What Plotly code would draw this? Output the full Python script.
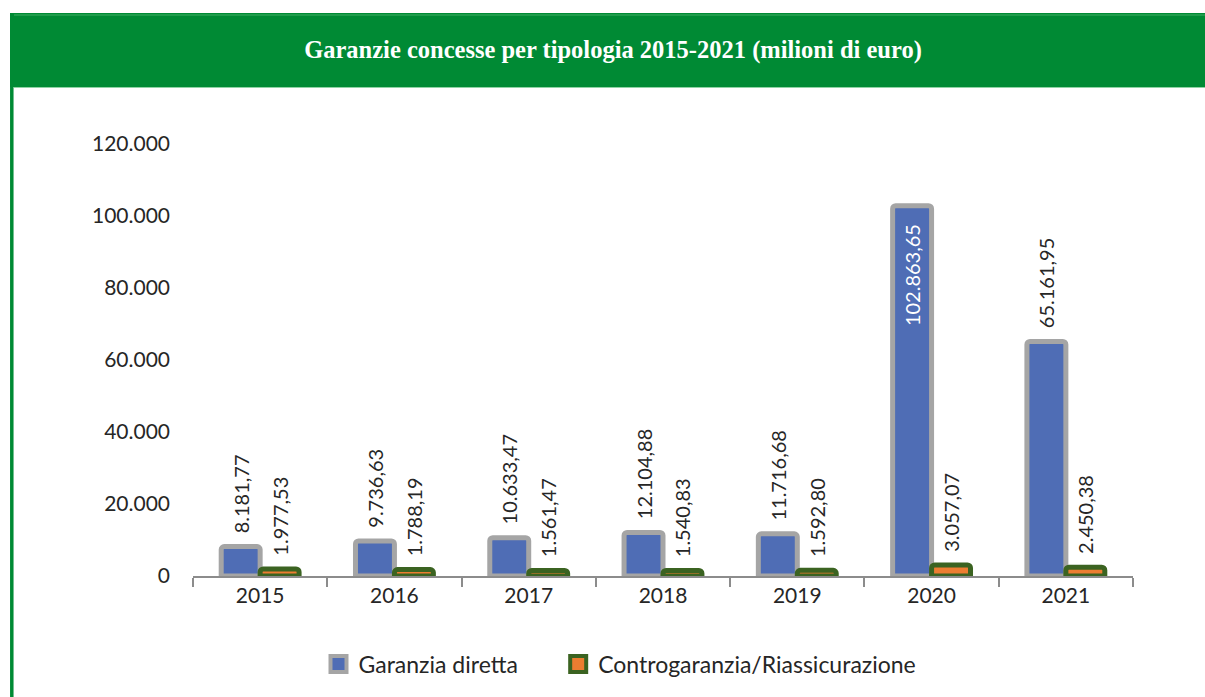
import plotly.graph_objects as go

# Guarantees granted per type, 2015-2021 (million euro)
years = ["2015", "2016", "2017", "2018", "2019", "2020", "2021"]
garanzia_diretta = [8181.77, 9736.63, 10633.47, 12104.88, 11716.68, 102863.65, 65161.95]
controgaranzia = [1977.53, 1788.19, 1561.47, 1540.83, 1592.80, 3057.07, 2450.38]
y_ticks = [0, 20000, 40000, 60000, 80000, 100000, 120000]
series_names = ["Garanzia diretta", "Controgaranzia/Riassicurazione"]

TITLE = "Garanzie concesse per tipologia 2015-2021 (milioni di euro)"
FONT = "Lato"
GREEN = "#008A34"
TEXT = "#262626"
NB = "\u00a0"

fills = ["#4F6DB5", "#ED7D31"]
borders = ["#A5A5A5", "#3B6321"]


def it_num(v):
    s = f"{v:,.2f}"
    return s.replace(",", "X").replace(".", ",").replace("X", ".")


def it_int(v):
    return f"{v:,.0f}".replace(",", ".")


def label(v, inside):
    # a little padding between the bar and its value
    return it_num(v) + NB * 3 if inside else NB * 2 + it_num(v)


fig = go.Figure()
for name, vals, fill, border in zip(series_names, [garanzia_diretta, controgaranzia], fills, borders):
    inside = [v > 100000 for v in vals]
    fig.add_trace(go.Bar(
        name=name, x=years, y=vals, width=0.29, showlegend=False,
        marker=dict(color=fill, line=dict(color=border, width=5), cornerradius=3),
        text=[label(v, i) for v, i in zip(vals, inside)],
        textposition=["inside" if i else "outside" for i in inside],
        insidetextanchor="end",
        textangle=-90,
        insidetextfont=dict(family=FONT, size=20, color="white"),
        outsidetextfont=dict(family=FONT, size=20, color=TEXT),
        constraintext="none",
        cliponaxis=False,
    ))

# legend keys drawn as bordered squares; extra space after the first entry
legend_gap = [NB * 6, ""]
for name, gap, fill, border in zip(series_names, legend_gap, fills, borders):
    fig.add_trace(go.Scatter(
        name=name + gap, x=[None], y=[None], mode="markers",
        marker=dict(symbol="square", size=16, color=fill, line=dict(color=border, width=4)),
    ))

W, H = 1205, 697
L, R, T, B = 193, 72, 144, 121
pw, ph = W - L - R, H - T - B


def px_x(p):
    return (p - L) / pw


def px_y(p):
    return (H - B - p) / ph


shapes = [
    # header band
    dict(type="rect", xref="paper", yref="paper",
         x0=px_x(10), x1=px_x(W + 2), y0=px_y(87), y1=px_y(13),
         fillcolor=GREEN, line=dict(width=0), layer="below"),
    # light rules along the header edges
    dict(type="line", xref="paper", yref="paper",
         x0=px_x(14), x1=px_x(W + 2), y0=px_y(15), y1=px_y(15),
         line=dict(color="#3FAE63", width=1)),
    dict(type="line", xref="paper", yref="paper",
         x0=px_x(14), x1=px_x(W + 2), y0=px_y(87.5), y1=px_y(87.5),
         line=dict(color="#8FD3A4", width=1)),
    # left frame rule
    dict(type="line", xref="paper", yref="paper",
         x0=px_x(11.8), x1=px_x(11.8), y0=px_y(86), y1=px_y(H + 2),
         line=dict(color=GREEN, width=3.5)),
]

fig.update_layout(
    width=W, height=H,
    margin=dict(l=L, r=R, t=T, b=B),
    paper_bgcolor="white", plot_bgcolor="white",
    separators=",.",
    barmode="group", bargap=0.42, bargroupgap=0,
    font=dict(family=FONT, size=21, color=TEXT),
    title=dict(text=f"<b>{TITLE}</b>", x=613 / W, xref="container", xanchor="center",
               y=1 - 49 / H, yref="container", yanchor="middle",
               font=dict(family="Liberation Serif", size=24.5, color="white")),
    shapes=shapes,
    showlegend=True,
    legend=dict(orientation="h", xref="container", yref="container",
                x=620 / W, xanchor="center", y=1 - 664 / H, yanchor="middle",
                font=dict(family=FONT, size=23, color=TEXT),
                itemsizing="trace", traceorder="normal", itemwidth=30),
    xaxis=dict(type="category", showgrid=False, showline=True, linecolor="#8C8C8C", linewidth=2,
               ticks="outside", tickson="boundaries", ticklen=9, tickwidth=2, tickcolor="#8C8C8C",
               tickfont=dict(family=FONT, size=21, color=TEXT), range=[-0.5, 6.5]),
    xaxis2=dict(overlaying="x", anchor="y", type="linear", range=[-0.5, 6.5],
                showgrid=False, showline=False, showticklabels=False,
                ticks="inside", tick0=-0.5, dtick=1, ticklen=6, tickwidth=2, tickcolor="#8C8C8C",
                zeroline=False),
    yaxis=dict(range=[0, 120000], tickvals=y_ticks, ticktext=[it_int(v) for v in y_ticks],
               showgrid=False, zeroline=False, showline=False, ticks="",
               ticklabelstandoff=22,
               tickfont=dict(family=FONT, size=21, color=TEXT)),
)

fig.write_html("out.html")
